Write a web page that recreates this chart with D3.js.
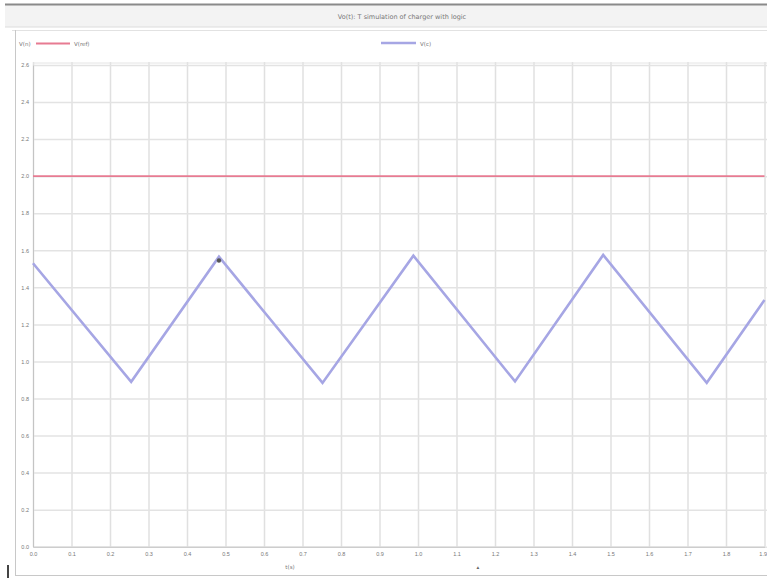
<!DOCTYPE html>
<html>
<head>
<meta charset="utf-8">
<script src="https://cdn.jsdelivr.net/npm/d3@7.9.0/dist/d3.min.js"></script>
<style>
  html, body { margin: 0; padding: 0; background: #fff; }
  svg { display: block; font-family: 'DejaVu Sans', sans-serif; }
</style>
</head>
<body>
<div id="chart"></div>
<script>
// chart data
const titleText = 'Vo(t): T simulation of charger with logic';
const seriesNames = ['V(ref)', 'V(c)'];
const legendPrefix = 'V(n)';
const xTicks = d3.range(0, 20).map((i) => +(i * 0.1).toFixed(1));
const yTicks = d3.range(0, 14).map((i) => +(i * 0.2).toFixed(1));
const refX = [0, 1.9];
const refY = [2.0, 2.0];
const vcX = [0.0, 0.255, 0.483, 0.752, 0.988, 1.252, 1.481, 1.75, 1.9];
const vcY = [1.53, 0.89, 1.565, 0.884, 1.571, 0.892, 1.575, 0.885, 1.332];
const cursorPoint = [0.483, 1.545];
const xTitle = 't(s)';

const width = 767;
const height = 578;
const plot = { left: 33, right: 764.5, top: 65, bottom: 546.7 };

const svg = d3.select('#chart').append('svg')
  .attr('width', width)
  .attr('height', height);

// window frame
svg.append('rect').attr('x', 5).attr('y', 5).attr('width', width - 5).attr('height', 22)
  .attr('fill', '#f3f3f3');
svg.append('line').attr('x1', 5).attr('x2', width).attr('y1', 4.5).attr('y2', 4.5)
  .attr('stroke', '#8a8a8a').attr('stroke-width', 2);
svg.append('line').attr('x1', 5).attr('x2', width).attr('y1', 27).attr('y2', 27)
  .attr('stroke', '#dcdcdc');
svg.append('text').attr('x', 402).attr('y', 19).attr('text-anchor', 'middle')
  .attr('font-size', 6.5).attr('fill', '#777').text(titleText);

// panel borders
svg.append('line').attr('x1', 12).attr('x2', width).attr('y1', 30.5).attr('y2', 30.5)
  .attr('stroke', '#e2e2e2');
svg.append('line').attr('x1', 15.5).attr('x2', 15.5).attr('y1', 30).attr('y2', 576)
  .attr('stroke', '#c8c8c8');
svg.append('line').attr('x1', 15).attr('x2', width).attr('y1', 575.5).attr('y2', 575.5)
  .attr('stroke', '#c8c8c8');
svg.append('rect').attr('x', 7).attr('y', 565).attr('width', 2).attr('height', 13)
  .attr('fill', '#444');

const x = d3.scaleLinear().domain([0, 1.9]).range([plot.left, plot.right]);
const y = d3.scaleLinear().domain([0, 2.6]).range([plot.bottom, plot.top]);

// grid
const grid = svg.append('g').attr('class', 'grid');
grid.append('g')
  .attr('transform', `translate(0,${plot.bottom})`)
  .call(d3.axisBottom(x).tickValues(xTicks).tickFormat('').tickSize(-(plot.bottom - plot.top + 3)))
  .call((g) => g.select('.domain').remove())
  .call((g) => g.selectAll('line').attr('stroke', '#e0e0e0').attr('stroke-width', 1.5));
grid.append('g')
  .attr('transform', `translate(${plot.left},0)`)
  .call(d3.axisLeft(y).tickValues(yTicks).tickFormat('').tickSize(-(width - plot.left)))
  .call((g) => g.select('.domain').remove())
  .call((g) => g.selectAll('line').attr('stroke', '#e3e3e3').attr('stroke-width', 1.5));

// plot top border
svg.append('line').attr('x1', plot.left).attr('x2', width).attr('y1', 63).attr('y2', 63)
  .attr('stroke', '#e4e4e4');

// axes labels
const yAxis = svg.append('g').attr('transform', `translate(${plot.left},0)`)
  .call(d3.axisLeft(y).tickValues(yTicks).tickSize(0).tickPadding(4).tickFormat(d3.format('.1f')));
yAxis.select('.domain').attr('stroke', '#c4c4c4');
yAxis.selectAll('text').attr('font-size', 5.5).attr('fill', '#777');

const xAxis = svg.append('g').attr('transform', `translate(0,${plot.bottom})`)
  .call(d3.axisBottom(x).tickValues(xTicks).tickSize(0).tickPadding(5).tickFormat(d3.format('.1f')));
xAxis.select('.domain').attr('stroke', '#c4c4c4');
xAxis.selectAll('text').attr('font-size', 5.5).attr('fill', '#777')
  .filter((d, i, n) => i === n.length - 1).attr('text-anchor', 'end').attr('dx', 2);

svg.append('text').attr('x', 290).attr('y', 569).attr('text-anchor', 'middle')
  .attr('font-size', 5.5).attr('fill', '#777').text(xTitle);
svg.append('text').attr('x', 478).attr('y', 569).attr('text-anchor', 'middle')
  .attr('font-size', 5.5).attr('fill', '#666').text('\u25B4');

// series
const line = d3.line().x((d) => x(d[0])).y((d) => y(d[1]));
svg.append('path')
  .datum(refX.map((v, i) => [v, refY[i]]))
  .attr('d', line).attr('fill', 'none')
  .attr('stroke', '#e77b92').attr('stroke-width', 1.8);
svg.append('path')
  .datum(vcX.map((v, i) => [v, vcY[i]]))
  .attr('d', line).attr('fill', 'none')
  .attr('stroke', '#a6a6e4').attr('stroke-width', 2.6)
  .attr('stroke-linejoin', 'miter');
svg.append('circle').attr('cx', x(cursorPoint[0])).attr('cy', y(cursorPoint[1]))
  .attr('r', 2.2).attr('fill', '#555');

// legend
const legend = svg.append('g').attr('font-size', 5.5).attr('fill', '#777');
legend.append('text').attr('x', 19).attr('y', 45.5).text(legendPrefix);
legend.append('line').attr('x1', 36).attr('x2', 70).attr('y1', 43.5).attr('y2', 43.5)
  .attr('stroke', '#e77b92').attr('stroke-width', 1.8);
legend.append('text').attr('x', 74).attr('y', 45.5).text(seriesNames[0]);
legend.append('line').attr('x1', 381).attr('x2', 416).attr('y1', 43).attr('y2', 43)
  .attr('stroke', '#a6a6e4').attr('stroke-width', 2.4);
legend.append('text').attr('x', 420).attr('y', 45.5).text(seriesNames[1]);
</script>
</body>
</html>
